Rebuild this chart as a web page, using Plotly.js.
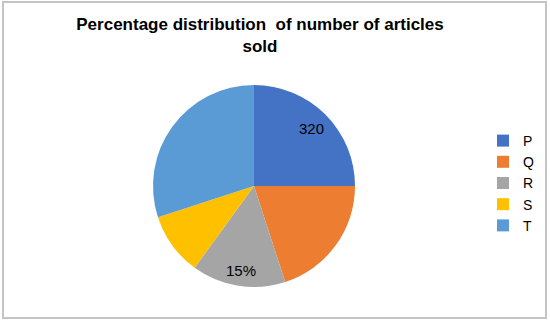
<!DOCTYPE html>
<html>
<head>
<meta charset="utf-8">
<script src="https://cdn.plot.ly/plotly-3.0.1.min.js"></script>
<style>
html,body{margin:0;padding:0;background:#fff;}
#chart{width:550px;height:321px;}
</style>
</head>
<body>
<div id="chart"></div>
<script>
var categories = ["P", "Q", "R", "S", "T"];
var percentages = [25, 20, 15, 10, 30];
var sliceLabels = ["320", "", "15%", "", ""];
var colors = ["#4472C4", "#ED7D31", "#A5A5A5", "#FFC000", "#5B9BD5"];

var W = 550, H = 321;
var cx = 254, cy = 186, r = 101;
var labelRadius = [0.8, 0, 0.85, 0, 0];

var trace = {
  type: "pie",
  labels: categories,
  values: percentages,
  textinfo: "none",
  sort: false,
  direction: "clockwise",
  rotation: 0,
  marker: {colors: colors, line: {width: 0}},
  hoverinfo: "none",
  domain: {
    x: [(cx - r) / W, (cx + r) / W],
    y: [1 - (cy + r) / H, 1 - (cy - r) / H]
  }
};

// slice labels placed along each slice's bisector
var total = percentages.reduce(function (a, b) { return a + b; }, 0);
var annotations = [];
var cum = 0;
for (var i = 0; i < percentages.length; i++) {
  var mid = (cum + percentages[i] / 2) / total * 2 * Math.PI;
  cum += percentages[i];
  if (!sliceLabels[i]) continue;
  var rr = labelRadius[i] * r;
  annotations.push({
    xref: "paper", yref: "paper",
    x: (cx + rr * Math.sin(mid)) / W,
    y: 1 - (cy - rr * Math.cos(mid)) / H,
    text: sliceLabels[i],
    showarrow: false,
    xanchor: "center", yanchor: "middle",
    font: {family: "Liberation Sans, Arial, sans-serif", size: 15, color: "#000"}
  });
}

var layout = {
  width: W,
  height: H,
  margin: {l: 0, r: 0, t: 0, b: 0},
  paper_bgcolor: "#fff",
  title: {
    text: "Percentage distribution  of number of articles<br>sold",
    font: {family: "Liberation Sans, Arial, sans-serif", size: 17, color: "#000", weight: "bold"},
    x: 260 / W,
    xanchor: "center",
    y: 1 - 30 / H,
    yanchor: "top"
  },
  showlegend: true,
  legend: {
    x: 483 / W,
    xanchor: "left",
    y: 1 - 125 / H,
    yanchor: "top",
    font: {family: "Liberation Sans, Arial, sans-serif", size: 14, color: "#000"},
    itemwidth: 30,
    bgcolor: "rgba(0,0,0,0)"
  },
  annotations: annotations,
  shapes: [{
    type: "rect", xref: "paper", yref: "paper",
    x0: 3 / W, x1: 546 / W, y0: 1 - 318 / H, y1: 1 - 2 / H,
    line: {color: "#C4C4C4", width: 2}
  }]
};

Plotly.newPlot("chart", [trace], layout, {displayModeBar: false, staticPlot: true});
</script>
</body>
</html>
